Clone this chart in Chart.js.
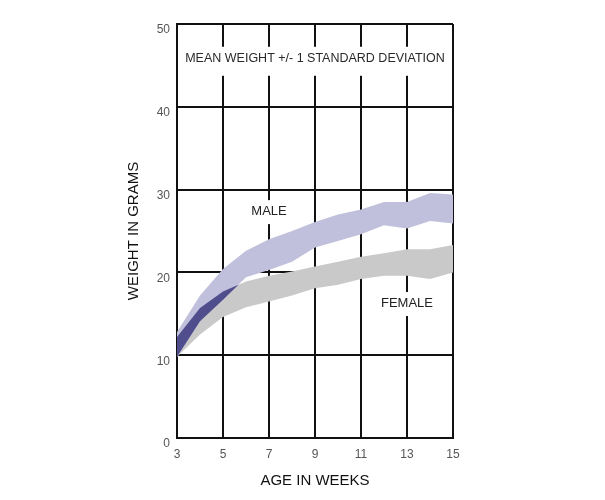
<!DOCTYPE html>
<html>
<head>
<meta charset="utf-8">
<script src="https://cdn.jsdelivr.net/npm/chart.js@4/dist/chart.umd.min.js"></script>
<style>
  body { margin: 0; background: #fff; }
  #wrap { width: 605px; height: 500px; }
</style>
</head>
<body>
<div id="wrap"><canvas id="pesoChart" width="605" height="500"></canvas></div>
<script>
// datos (gramos por semana)
const semanas = [3, 4, 5, 6, 7, 8, 9, 10, 11, 12, 13, 14, 15];
const machoAlto = [12.8, 17.2, 20.4, 22.6, 24.0, 25.0, 26.1, 27.0, 27.6, 28.5, 28.5, 29.6, 29.4];
const machoBajo = [9.8, 14.1, 16.7, 19.4, 20.3, 21.3, 23.0, 23.8, 24.6, 25.7, 25.3, 26.2, 25.9];
const hembraAlto = [12.2, 15.7, 17.7, 18.9, 19.6, 20.1, 20.7, 21.3, 21.9, 22.3, 22.8, 22.8, 23.3];
const hembraBajo = [9.8, 12.5, 14.6, 15.8, 16.5, 17.2, 18.1, 18.5, 19.2, 19.6, 19.6, 19.2, 20.0];

// zona donde se solapan las dos bandas
const solapeSemanas = [3, 4, 5, 5.67];
const solapeAlto = [12.2, 15.7, 17.7, 18.5];
const solapeBajo = [9.8, 14.1, 16.7, 18.5];

const ticksX = [3, 5, 7, 9, 11, 13, 15];
const ticksY = [0, 10, 20, 30, 40, 50];

const textoTitulo = 'MEAN WEIGHT +/- 1 STANDARD DEVIATION';
const etiquetas = [
  { texto: 'MALE', semana: 7, peso: 27.4 },
  { texto: 'FEMALE', semana: 13, peso: 16.3 }
];

const puntos = (xs, ys) => xs.map((x, i) => ({ x: x, y: ys[i] }));

function banda(label, data, fill, color, orden) {
  return {
    label: label,
    data: data,
    fill: fill,
    backgroundColor: color,
    borderColor: 'rgba(0,0,0,0)',
    borderWidth: 0,
    pointRadius: 0,
    tension: 0,
    order: orden
  };
}

// textos dentro del grafico con fondo blanco (tapan la rejilla)
const textosPlugin = {
  id: 'textos',
  afterDraw(chart) {
    const { ctx, chartArea, scales: { x, y } } = chart;
    ctx.save();
    ctx.textAlign = 'center';
    ctx.textBaseline = 'middle';

    ctx.font = '12.5px "Liberation Sans", Arial, sans-serif';
    const ty = y.getPixelForValue(45.8);
    const tx = (chartArea.left + chartArea.right) / 2;
    ctx.fillStyle = '#fff';
    ctx.fillRect(chartArea.left + 4, ty - 12, chartArea.right - chartArea.left - 8, 29);
    ctx.fillStyle = '#2a2a2a';
    ctx.fillText(textoTitulo, tx, ty);

    ctx.font = '13px "Liberation Sans", Arial, sans-serif';
    etiquetas.forEach(e => {
      const px = x.getPixelForValue(e.semana);
      const py = y.getPixelForValue(e.peso);
      const w = ctx.measureText(e.texto).width;
      ctx.fillStyle = '#fff';
      ctx.fillRect(px - w / 2 - 3, py - 11, w + 6, 24);
      ctx.fillStyle = '#222';
      ctx.fillText(e.texto, px, py);
    });
    ctx.restore();
  }
};

const ctx = document.getElementById('pesoChart').getContext('2d');
new Chart(ctx, {
  type: 'line',
  data: {
    datasets: [
      banda('Female -1 SD', puntos(semanas, hembraBajo), false, 'rgba(0,0,0,0)', 3),
      banda('Female +1 SD', puntos(semanas, hembraAlto), '-1', '#c9c9c9', 3),
      banda('Male -1 SD', puntos(semanas, machoBajo), false, 'rgba(0,0,0,0)', 2),
      banda('Male +1 SD', puntos(semanas, machoAlto), '-1', '#c0c0dc', 2),
      banda('Overlap low', puntos(solapeSemanas, solapeBajo), false, 'rgba(0,0,0,0)', 1),
      banda('Overlap high', puntos(solapeSemanas, solapeAlto), '-1', '#4f4d8c', 1)
    ]
  },
  options: {
    responsive: false,
    animation: false,
    events: [],
    layout: { padding: { top: 24, right: 152, left: 0, bottom: 0 } },
    plugins: {
      legend: { display: false },
      tooltip: { enabled: false }
    },
    scales: {
      x: {
        type: 'linear',
        min: 3,
        max: 15,
        afterBuildTicks: s => { s.ticks = ticksX.map(v => ({ value: v })); },
        afterFit: s => { s.height = 62; },
        grid: { color: '#111', lineWidth: 2, drawTicks: false },
        border: { color: '#111', width: 2 },
        ticks: {
          padding: 9,
          color: '#555',
          font: { family: '"Liberation Sans", Arial, sans-serif', size: 12 }
        },
        title: {
          display: true,
          text: 'AGE IN WEEKS',
          color: '#111',
          padding: { top: 0, bottom: 10 },
          font: { family: '"Liberation Sans", Arial, sans-serif', size: 15 }
        }
      },
      y: {
        min: 0,
        max: 50,
        afterBuildTicks: s => { s.ticks = ticksY.map(v => ({ value: v })); },
        afterFit: s => { s.width = 177; },
        grid: { color: '#111', lineWidth: 2, drawTicks: false },
        border: { color: '#111', width: 2 },
        ticks: {
          padding: 7,
          labelOffset: 6,
          color: '#555',
          font: { family: '"Liberation Sans", Arial, sans-serif', size: 12 }
        },
        title: {
          display: true,
          text: 'WEIGHT IN GRAMS',
          color: '#111',
          padding: { top: 125, bottom: 0 },
          font: { family: '"Liberation Sans", Arial, sans-serif', size: 15 }
        }
      }
    }
  },
  plugins: [textosPlugin]
});
</script>
</body>
</html>
